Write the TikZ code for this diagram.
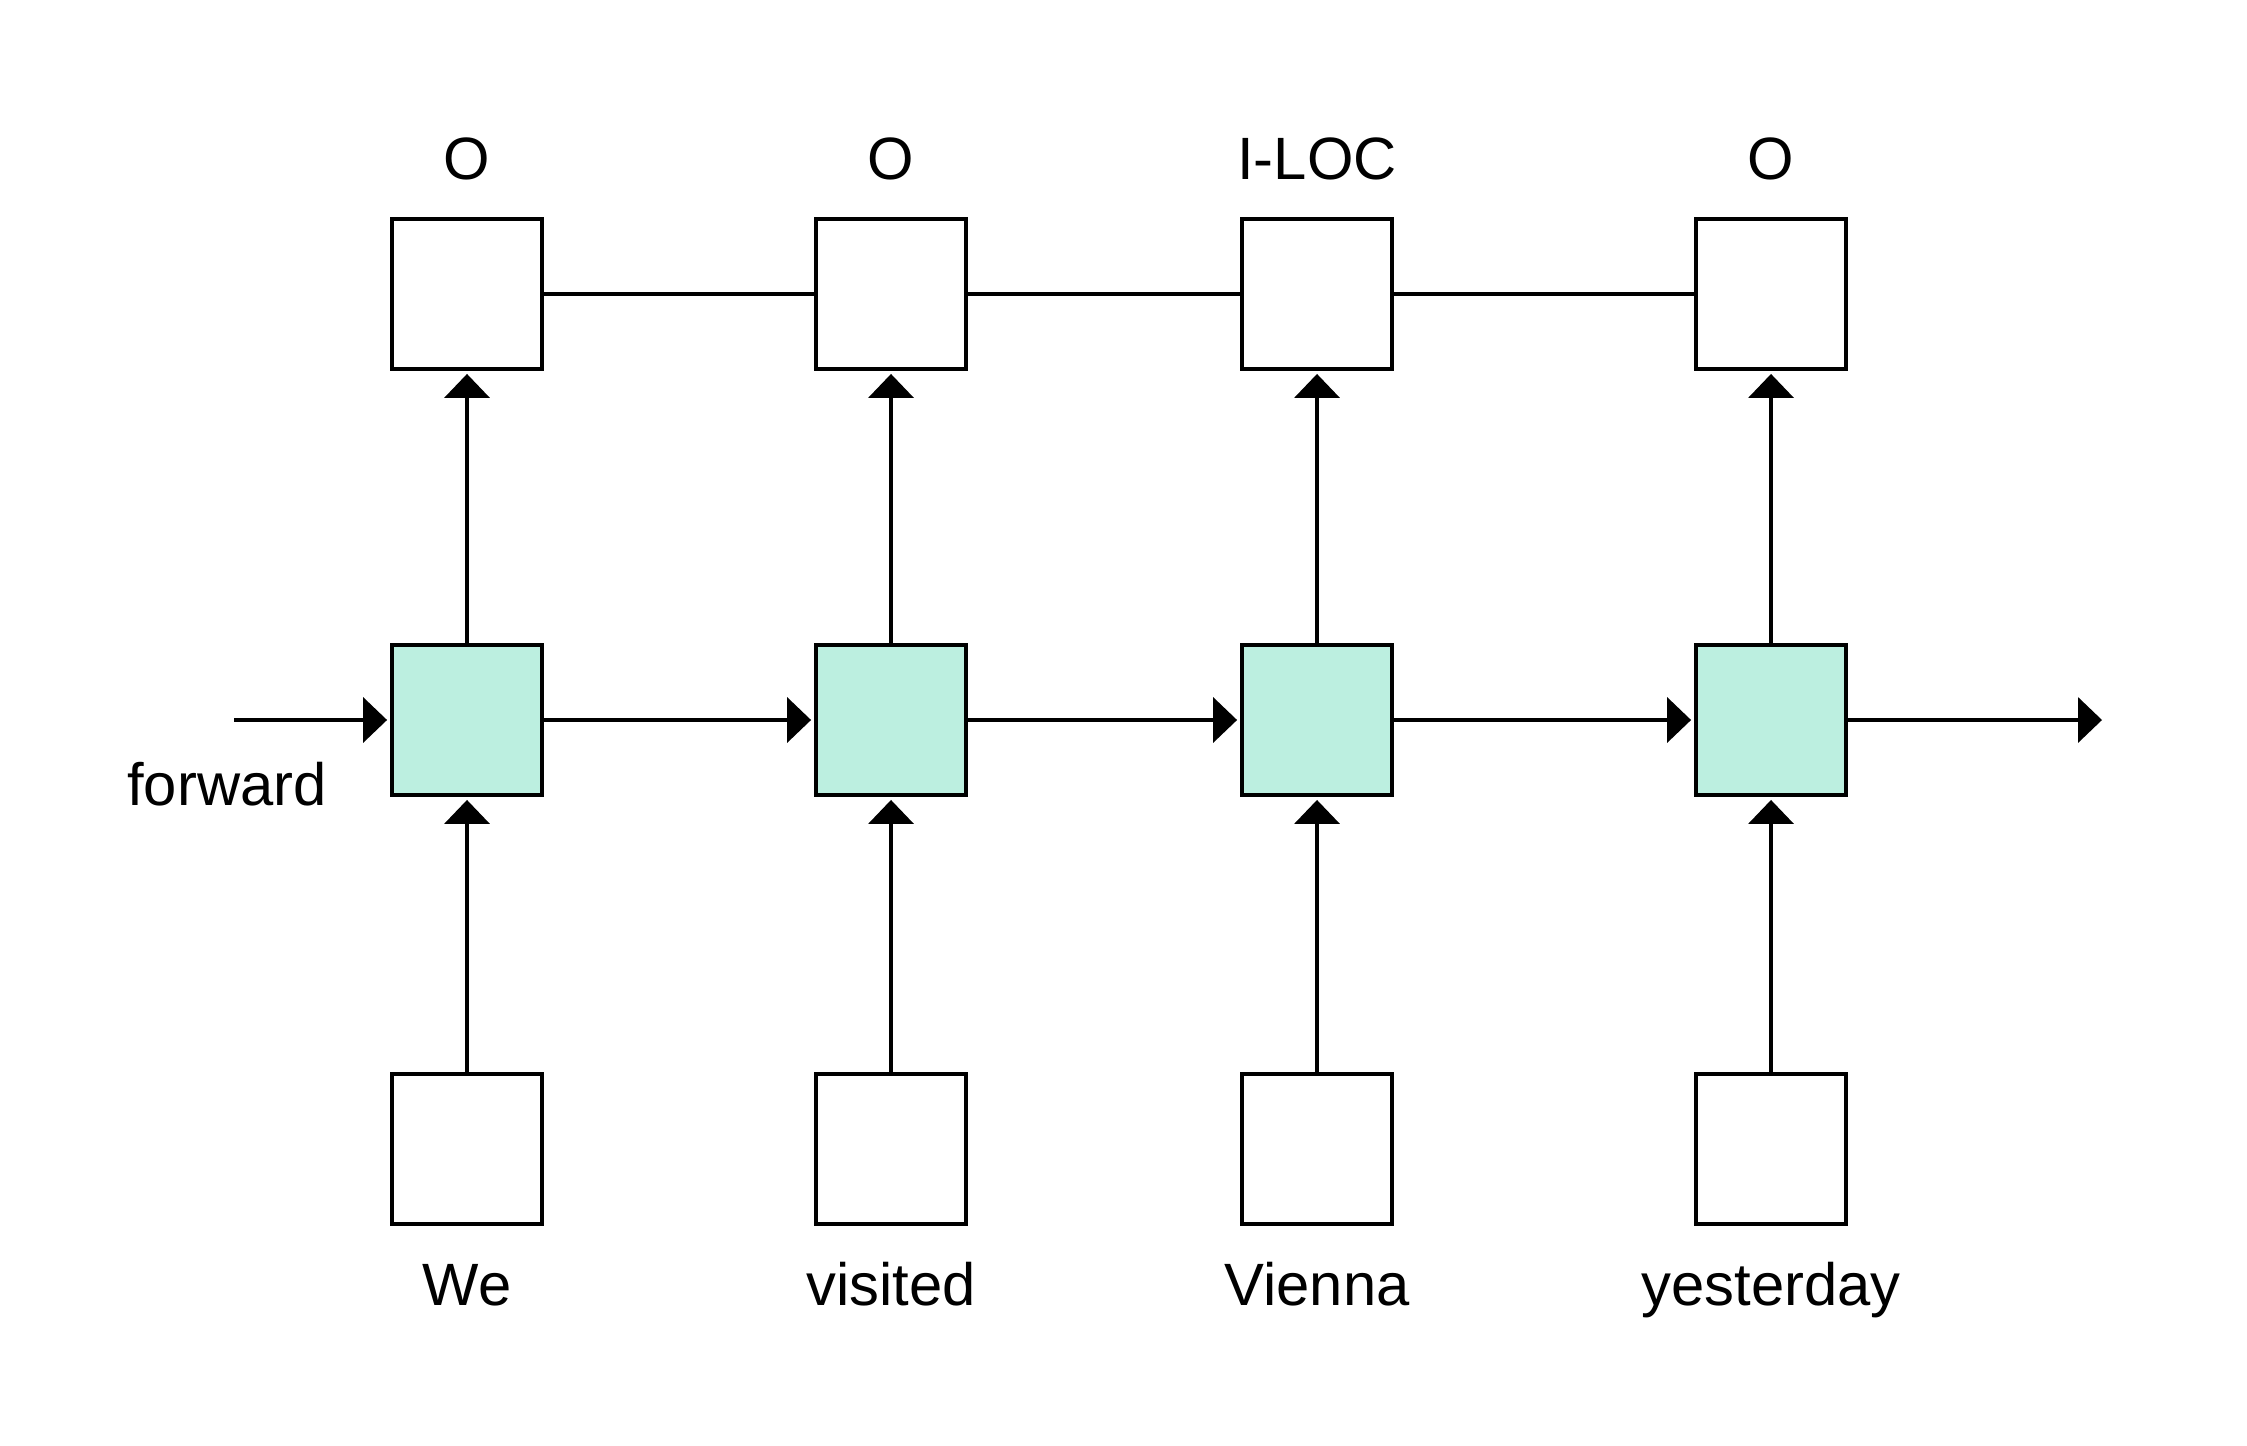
\documentclass[tikz,border=0pt]{standalone}
\usepackage{fontspec}
\setmainfont{Liberation Sans}
\usetikzlibrary{arrows.meta}
\definecolor{cellgreen}{HTML}{BCEFE0}
\tikzset{
    box/.style={draw, line width=1.1pt, minimum size=1.5cm, inner sep=0pt, fill=white},
    cell/.style={box, fill=cellgreen},
    word/.style={font=\fontsize{17}{20}\selectfont, anchor=base},
    arr/.style={line width=1.1pt, -{Triangle[width=0.45cm, length=0.24cm]}, shorten >=0.03cm},
    link/.style={line width=1.1pt}
}
\begin{document}
\begin{tikzpicture}
        \useasboundingbox (0, 0) rectangle (22.47, 14.45);

        % Output Labels
        \node[word] (l1) at (4.67, 12.65) {O};
        \node[word] (l2) at (8.91, 12.65) {O};
        \node[word] (l3) at (13.17, 12.65) {I-LOC};
        \node[word] (l4) at (17.71, 12.65) {O};

        % Output Boxes
        \node[box] (o1) at (4.67, 11.51) {};
        \node[box] (o2) at (8.91, 11.51) {};
        \node[box] (o3) at (13.17, 11.51) {};
        \node[box] (o4) at (17.71, 11.51) {};

        % Hidden Cells
        \node[cell] (h1) at (4.67, 7.25) {};
        \node[cell] (h2) at (8.91, 7.25) {};
        \node[cell] (h3) at (13.17, 7.25) {};
        \node[cell] (h4) at (17.71, 7.25) {};

        % Input Boxes
        \node[box] (x1) at (4.67, 2.96) {};
        \node[box] (x2) at (8.91, 2.96) {};
        \node[box] (x3) at (13.17, 2.96) {};
        \node[box] (x4) at (17.71, 2.96) {};

        % Input Words
        \node[word] (w1) at (4.67, 1.40) {We};
        \node[word] (w2) at (8.91, 1.40) {visited};
        \node[word] (w3) at (13.17, 1.40) {Vienna};
        \node[word] (w4) at (17.71, 1.40) {yesterday};

        % Direction
        \node[word] (fw) at (2.27, 6.40) {forward};
        \coordinate (start) at (2.34, 7.25);
        \coordinate (end) at (21.02, 7.25);

        % Connect Output Boxes
        \draw[link] (o1) -- (o2);
        \draw[link] (o2) -- (o3);
        \draw[link] (o3) -- (o4);

        % Forward Chain
        \draw[arr] (start) -- (h1);
        \draw[arr] (h1) -- (h2);
        \draw[arr] (h2) -- (h3);
        \draw[arr] (h3) -- (h4);
        \draw[arr, shorten >=0pt] (h4) -- (end);

        % Inputs to Cells
        \draw[arr] (x1) -- (h1);
        \draw[arr] (x2) -- (h2);
        \draw[arr] (x3) -- (h3);
        \draw[arr] (x4) -- (h4);

        % Cells to Outputs
        \draw[arr] (h1) -- (o1);
        \draw[arr] (h2) -- (o2);
        \draw[arr] (h3) -- (o3);
        \draw[arr] (h4) -- (o4);
    \end{tikzpicture}
\end{document}
